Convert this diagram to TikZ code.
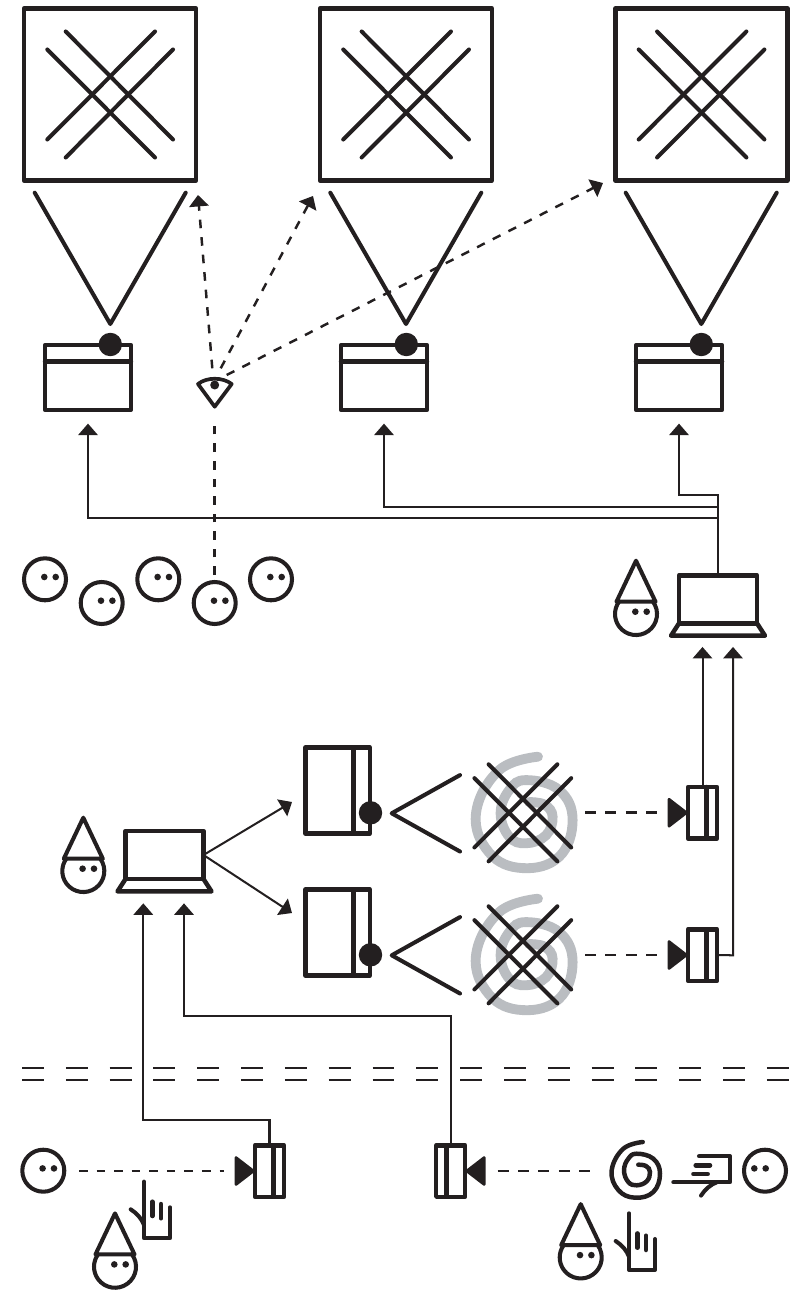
\documentclass[tikz,border=0pt]{standalone}
\usepackage{tikz}
\usetikzlibrary{arrows.meta}
\definecolor{ink}{HTML}{231F20}
\definecolor{spiralgray}{HTML}{BABDC1}
\tikzstyle{heavy} = [line width=2.55pt, line join=round, line cap=round]
\tikzstyle{medium} = [line width=2.3pt, line join=round, line cap=round]
\tikzstyle{screenbox} = [draw, rectangle, heavy, outer sep=0pt, inner sep=0pt, minimum width=3.44cm, minimum height=3.44cm]
\tikzstyle{windowbox} = [draw, rectangle, heavy, outer sep=0pt, inner sep=0pt, transform shape, minimum width=1.72cm, minimum height=1.29cm]
\tikzstyle{laptopbox} = [draw, rectangle, heavy, outer sep=0pt, inner sep=0pt, minimum width=1.56cm, minimum height=0.96cm]
\tikzstyle{cambox} = [draw, rectangle, heavy, outer sep=0pt, inner sep=0pt, minimum width=0.58cm, minimum height=1.03cm]
\tikzstyle{facering} = [draw, circle, medium, outer sep=0pt, inner sep=0pt, minimum size=0.84cm]
\tikzstyle{wire} = [->, line width=1.15pt]
\tikzstyle{dashlink} = [line width=1.4pt, dash pattern=on 4.9pt off 5.1pt]
\tikzstyle{widelink} = [line width=1.4pt, dash pattern=on 6.2pt off 5.4pt]
\tikzstyle{divider} = [line width=1.15pt, dash pattern=on 12.47pt off 12.47pt]
\tikzset{
  crossed/.pic={
    \draw [medium] (-44.3,-63) -- (63,45);
    \draw [medium] (-62.7,-45) -- (45,63);
    \draw [medium] (45,-63) -- (-62.7,45);
    \draw [medium] (63,-45) -- (-44.3,63);
  },
  window/.pic={
    \node [windowbox] (-box) {};
    \draw [heavy] (-43,-15.8) -- (43,-15.8);
    \fill (22.3,-33) circle (11.7);
  },
  laptop/.pic={
    \node [laptopbox] (-box) {};
    \draw [heavy] (-39,24) -- (-47,36.4) -- (47,36.4) -- (39,24);
    \node [coordinate] (-base) at (0,36.4) {};
  },
  camera/.pic={
    \node [cambox] (-box) {};
    \draw [heavy] (4.2,-25.7) -- (4.2,25.7);
    \filldraw [line width=1.5pt, line join=round] (-16,0) -- (-33.5,-13.5) -- (-33.5,13.5) -- cycle;
  },
  face/.pic={
    \node [facering] (-box) {};
    \fill (-0.7,-2.3) circle (3.3);
    \fill (10.7,-2.3) circle (3.3);
  },
  gnome/.pic={
    \draw [medium] (-19.5,-12.3) -- (0,-53.3) -- (19.5,-12.3) -- cycle;
    \draw [medium] (17,-12.3) arc (-36:216:21);
    \fill (-0.7,-2.3) circle (3.3);
    \fill (10.7,-2.3) circle (3.3);
  },
  hand/.pic={
    \draw [medium] (0,-56.7) -- (0,0) -- (26,0) -- (26,-31);
    \draw [medium] (-13.3,-29) .. controls (-7,-25) and (-2,-19) .. (0,-13.3);
    \draw [heavy] (8.3,-36.6) -- (8.3,-22.3);
    \draw [heavy] (17,-34.3) -- (17,-20);
  },
  spiral/.pic={
    \draw [line cap=round] plot [smooth, tension=.7] coordinates {(6.7,-30) (-12.7,-23.3) (-24.3,-1.7) (-17.7,18) (-1,25.7) (17.3,20) (24,1.7) (17.3,-13.3) (0.7,-18.3) (-7.7,-13.3) (-12,-1.7) (-7.7,10) (0.7,13.3) (10.7,9.3) (14,0) (10,-6) (2.3,-7.3)};
  },
  seer/.pic={
    \draw [line width=2.1pt, line join=round, line cap=round] (-16.7,-8) -- (0,14.7) -- (17,-8) .. controls (8,-15) and (-8,-15) .. cycle;
    \fill (0,-7) circle (4.5);
  }
}

\begin{document}
\begin{tikzpicture}[x=0.02cm, y=-0.02cm, color=ink, >={Triangle[width=11pt,length=6.5pt]}]
\useasboundingbox (0,0) rectangle (800,1290);

% top row
\node [screenbox] (screenA) at (110,94.5) {};
\node [screenbox, right of=screenA, node distance=5.92cm] (screenB) {};
\node [screenbox, right of=screenB, node distance=5.91cm] (screenC) {};
\pic at (screenA) {crossed};
\pic at (screenB) {crossed};
\pic at (screenC) {crossed};

\draw [medium] (34.7,192.7) -- (110.3,324) -- (185.7,192.7);
\draw [medium] (330.3,192.7) -- (406,324) -- (481.3,192.7);
\draw [medium] (625.7,192.7) -- (701.3,324) -- (776.7,192.7);

\pic (winA) at (88,377.5) {window};
\pic (winB) at (384,377.5) {window};
\pic (winC) at (679,377.5) {window};

% audience
\pic (faceA) at (45,579.3) {face};
\pic (faceB) at (101.7,603) {face};
\pic (faceC) at (158.3,579.3) {face};
\pic (faceD) at (214.7,603) {face};
\pic (faceE) at (271,579.3) {face};

\pic (seerA) at (214.7,392) {seer};
\coordinate (gazeStartA) at (212.3,368.3);
\coordinate (gazeStartB) at (220.7,368.3);
\coordinate (gazeStartC) at (226.7,375);
\coordinate (gazeEndA) at (198,195);
\coordinate (gazeEndB) at (313,196);
\coordinate (gazeEndC) at (603,183);
\coordinate (seerLow) at (214.7,417);
\coordinate (faceTop) at (214.7,575);
\draw [->, dashlink] (gazeStartA) -- (gazeEndA);
\draw [->, dashlink] (gazeStartB) -- (gazeEndB);
\draw [->, dashlink] (gazeStartC) -- (gazeEndC);
\draw [dashlink] (faceTop) -- (seerLow);

% first laptop
\pic at (636,614) {gnome};
\pic (laptopA) at (718,599.3) {laptop};

\coordinate (busA) at (88,518.3);
\coordinate (busB) at (384,506.7);
\coordinate (busC) at (679,495);
\draw [wire, shorten >=7.9pt] (laptopA-box.north) |- (busA) -- (winA-box.south);
\draw [wire, shorten >=7.9pt] (laptopA-box.north) |- (busB) -- (winB-box.south);
\draw [wire, shorten >=7.9pt] (laptopA-box.north) |- (busC) -- (winC-box.south);

% set
\pic [rotate=-90] (sideA) at (337.5,790.5) {window};
\pic [rotate=-90] (sideB) at (337.5,932.5) {window};
\draw [medium] (391.7,813.3) +(68.3,-38.2) -- +(0,0) -- +(68.3,38.2);
\draw [medium] (391.7,955.3) +(68.3,-38.2) -- +(0,0) -- +(68.3,38.2);

\pic [scale=2, line width=5.6pt, spiralgray] at (524.6,816.7) {spiral};
\pic [scale=2, line width=5.6pt, spiralgray] at (524.6,958.7) {spiral};
\pic [scale=0.77] at (522.7,812.8) {crossed};
\pic [scale=0.77] at (522.7,954.8) {crossed};

\pic (camA) at (702.5,812.7) {camera};
\pic (camB) at (702.5,955) {camera};

\coordinate (setOutA) at (585,812.7);
\coordinate (setOutB) at (585,955);
\coordinate (lensA) at (660,812.7);
\coordinate (lensB) at (660,955);
\draw [widelink] (setOutA) -- (lensA);
\draw [widelink] (setOutB) -- (lensB);

\coordinate (riseB) at (733,955.3);
\draw [wire, shorten >=6.4pt] (camA-box.north) -- (camA-box.north |- laptopA-base);
\draw [wire, shorten >=6.4pt] (camB-box.east) -- (riseB) -- (riseB |- laptopA-base);

% second laptop
\pic at (83.3,871) {gnome};
\pic (laptopB) at (164.5,855) {laptop};

\coordinate (sideInA) at (292,802);
\coordinate (sideInB) at (292,913);
\draw [wire] (laptopB-box.east) -- (sideInA);
\draw [wire] (laptopB-box.east) -- (sideInB);

% dividing line
\coordinate (divAl) at (22,1067.7);
\coordinate (divAr) at (792,1067.7);
\coordinate (divBl) at (22,1080.3);
\coordinate (divBr) at (792,1080.3);
\draw [divider] (divAl) -- (divAr);
\draw [divider] (divBl) -- (divBr);

% bottom row
\pic (faceF) at (43.3,1170.7) {face};
\pic (camC) at (269.5,1171) {camera};
\coordinate (faceOut) at (79,1171);
\coordinate (lensC) at (224,1171);
\draw [dashlink] (faceOut) -- (lensC);
\pic at (144,1238.3) {hand};
\pic at (115,1266.7) {gnome};

\pic [xscale=-1] (camD) at (450.7,1171) {camera};
\coordinate (lensD) at (497.7,1171);
\coordinate (spiralOut) at (598,1171);
\draw [widelink] (lensD) -- (spiralOut);
\pic [line width=2.55pt] at (636,1172) {spiral};
\pic [rotate=90] at (730,1182.3) {hand};
\pic [xscale=-1] (faceG) at (765,1170.7) {face};
\pic at (580.7,1257.4) {gnome};
\pic at (629,1270) {hand};

\coordinate (busD) at (143.3,1120);
\coordinate (busE) at (184,1015.7);
\draw [wire, shorten >=6.8pt] (camC-box.north) |- (busD) -- (busD |- laptopB-base);
\draw [wire, shorten >=6.8pt] (camD-box.north) |- (busE) -- (busE |- laptopB-base);

\end{tikzpicture}
\end{document}
